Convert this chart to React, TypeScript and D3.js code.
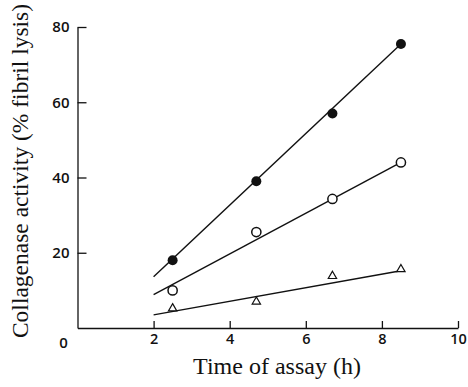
import { useEffect, useRef } from 'react'
import * as d3 from 'd3'

// assay times (h)
const times = [2.5, 4.7, 6.7, 8.5]

// collagenase activity, % fibril lysis
const filled = [18, 39, 57, 75.5]
const open = [10, 25.5, 34.3, 44]
const triangle = [5.2, 7, 13.8, 15.6]

// fitted lines, drawn between these two times
const fitX = [2, 8.5]
const fitFilled = [13.6, 75.5]
const fitOpen = [8.9, 44]
const fitTriangle = [3.5, 15.2]

const xTicks = [2, 4, 6, 8, 10]
const yTicks = [20, 40, 60, 80]

const W = 468, H = 387

export default function App() {
  const ref = useRef<SVGSVGElement>(null)

  useEffect(() => {
    if (!ref.current) return
    const svg = d3.select(ref.current)
    svg.selectAll('*').remove()

    const x = d3.scaleLinear().domain([0, 10]).range([77.5, 458])
    const y = d3.scaleLinear().domain([0, 80]).range([328, 27])
    const ink = '#111'
    const tickFont = '"Open Sans", sans-serif'
    const serif = '"Liberation Serif", serif'

    // y axis
    const ya = svg.append('g').attr('transform', `translate(${x(0)},0)`)
      .call(d3.axisLeft(y).tickValues(yTicks).tickSizeInner(-9).tickSizeOuter(0).tickPadding(8))
    ya.select('.domain').attr('stroke', ink).attr('stroke-width', 1.3)
    ya.selectAll('line').attr('stroke', ink).attr('stroke-width', 1.3)
    ya.selectAll('text').attr('font-family', tickFont).attr('font-size', 15)
      .attr('font-weight', 600).attr('fill', ink)

    // x axis
    const xa = svg.append('g').attr('transform', `translate(0,${y(0)})`)
      .call(d3.axisBottom(x).tickValues(xTicks).tickSizeInner(-7).tickSizeOuter(0).tickPadding(6))
    xa.select('.domain').attr('stroke', ink).attr('stroke-width', 1.3)
    xa.selectAll('line').attr('stroke', ink).attr('stroke-width', 1.3)
    xa.selectAll('text').attr('font-family', tickFont).attr('font-size', 14.5)
      .attr('font-weight', 600).attr('fill', ink)

    // the shared origin label
    svg.append('text').attr('x', x(0) - 14).attr('y', y(0) + 20)
      .attr('text-anchor', 'middle').attr('font-family', tickFont).attr('font-size', 15)
      .attr('font-weight', 600).attr('fill', ink).text('0')

    // titles
    svg.append('text').attr('x', 277).attr('y', 374)
      .attr('text-anchor', 'middle').attr('font-family', serif)
      .attr('font-size', 24).attr('fill', ink).text('Time of assay (h)')
    svg.append('text').attr('transform', `translate(28,${(5 + 337) / 2}) rotate(-90)`)
      .attr('text-anchor', 'middle').attr('font-family', serif)
      .attr('font-size', 23.5).attr('fill', ink).text('Collagenase activity (% fibril lysis)')

    // fitted lines
    const line = d3.line<number>().x((_, i) => x(fitX[i])).y(v => y(v))
    ;[fitFilled, fitOpen, fitTriangle].forEach(f => {
      svg.append('path').datum(f).attr('d', line).attr('fill', 'none')
        .attr('stroke', ink).attr('stroke-width', 1.4)
    })

    // markers
    svg.append('g').selectAll('circle').data(filled).join('circle')
      .attr('cx', (_, i) => x(times[i])).attr('cy', d => y(d)).attr('r', 5).attr('fill', ink)
    svg.append('g').selectAll('circle').data(open).join('circle')
      .attr('cx', (_, i) => x(times[i])).attr('cy', d => y(d)).attr('r', 4.6)
      .attr('fill', '#fff').attr('stroke', ink).attr('stroke-width', 1.5)
    const tri = d3.symbol().type(d3.symbolTriangle).size(30)
    svg.append('g').selectAll('path').data(triangle).join('path')
      .attr('transform', (d, i) => `translate(${x(times[i])},${y(d)})`).attr('d', tri)
      .attr('fill', '#fff').attr('stroke', ink).attr('stroke-width', 1.2)
  }, [])

  return <svg ref={ref} width={W} height={H}
    style={{ position: 'absolute', left: 0, top: 0, background: '#fff' }} />
}
